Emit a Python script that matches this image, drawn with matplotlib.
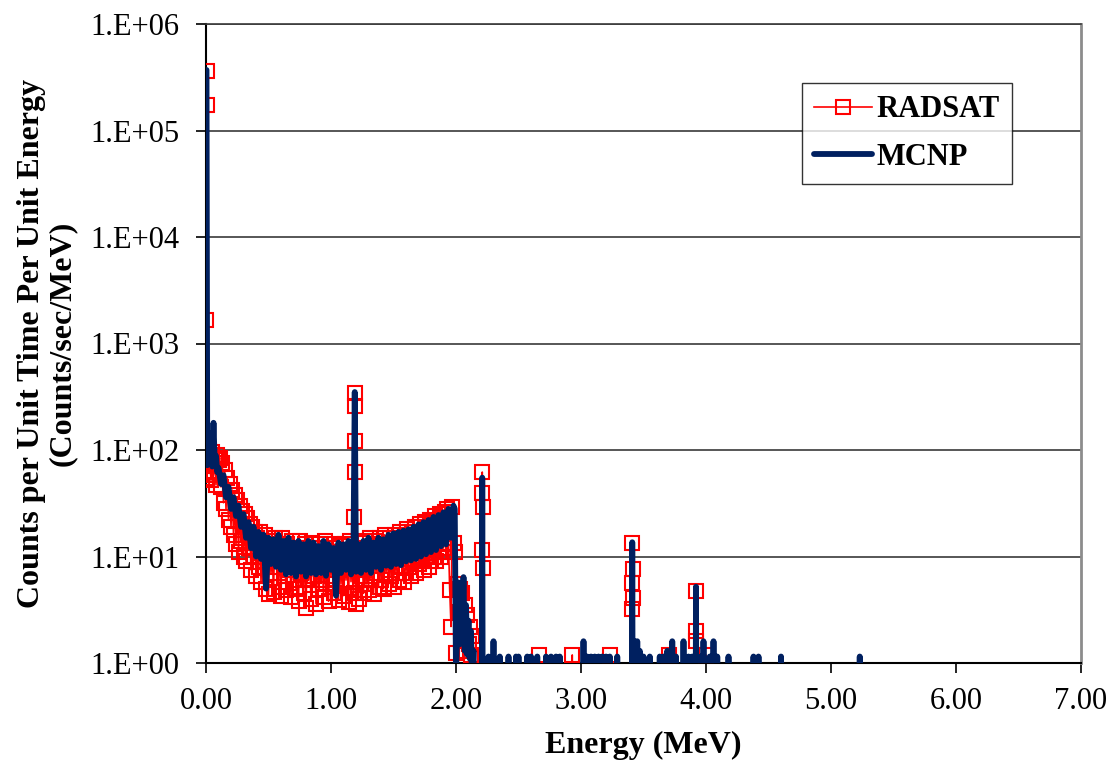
import numpy as np
import matplotlib
matplotlib.use("Agg")
import matplotlib.pyplot as plt
from matplotlib.ticker import FixedLocator, FuncFormatter, NullLocator

ZERO = 1e-2  # zero-count bins (below the log axis)

# ---------------- RADSAT ----------------
radsat_spike_E = [0.000, 0.002, 0.0035, 0.004, 0.0045]
radsat_spike_C = [70, 55, 1.66e3, 3.6e5, 1.72e5]

radsat_cont_E = np.round(np.arange(0.01, 2.005, 0.01), 3)  # 0.01 .. 2.00
radsat_cont_C = [
    85, 62, 78, 52, 95, 58, 85, 47, 90, 80,
    85, 45, 75, 32, 65, 28, 55, 22, 48, 19,
    42, 16, 38, 13, 34, 11, 30, 14, 27, 10,
    25, 9, 23, 12, 20, 7.5, 19, 10, 17, 6.5,
    15, 8, 17, 5.8, 13, 9, 16, 5, 12, 4.4,
    14, 7, 11, 4.6, 15, 8, 12, 5.2, 13, 4.3,
    15, 6.5, 10, 4.8, 13, 7.5, 11, 4.2, 14, 6,
    12, 5, 9, 3.8, 14, 7, 10, 4.5, 13, 3.3,
    12, 6, 9.5, 4, 13.5, 6.5, 11, 3.6, 12, 5,
    13, 6, 10, 4.2, 14, 5.5, 9, 3.8, 12, 6.5,
    11, 4.5, 13, 6, 9.5, 3.9, 12.5, 5.5, 10, 4.3,
    13, 6, 10, 3.7, 14, 5.8, 11, 4.5, 9, 3.6,
    12, 4, 13.5, 6.5, 10, 4.5, 14, 5.5, 11, 4.8,
    15, 6, 12, 4.4, 14, 7, 11, 5.2, 15, 6,
    13, 5, 16, 7, 12, 5.5, 15, 6.5, 13, 5.2,
    16, 7, 13, 6, 17, 8, 14, 5.8, 16, 7,
    18, 8, 15, 6.5, 17, 9, 19, 7, 16, 8.5,
    20, 9, 17, 7.5, 21, 10, 18, 8, 22, 9,
    21, 10, 24, 9, 20, 11, 25, 10, 23, 12,
    26, 11, 28, 13, 4.8, 2.2, 29, 13.4, 11, 1.24,
]

radsat_peak_E = [1.186, 1.188, 1.190, 1.192, 1.194]
radsat_peak_C = [23.5, 121, 340, 258, 62]

radsat_edge_E = [2.01, 2.02, 2.03, 2.04, 2.05, 2.06, 2.07, 2.08, 2.09, 2.10, 2.11, 2.12, 2.13, 2.14]
radsat_edge_C = [5.5, 3.0, 5.0, 2.0, 4.5, 1.6, 3.5, 1.3, 2.8, 1.5, 2.2, 1.2, 1.8, ZERO]

radsat_tail_E = [2.200, 2.206, 2.208, 2.210, 2.212, 2.214, 2.220,
                 2.65, 2.66, 2.67, 2.92, 2.93, 2.94, 3.22, 3.23, 3.24,
                 3.400, 3.406, 3.408, 3.410, 3.412, 3.414, 3.420,
                 3.69, 3.70, 3.71, 3.910, 3.918, 3.920, 3.922, 3.930,
                 3.99, 4.00, 4.01, 7.0]
radsat_tail_C = [ZERO, 11.5, 39.5, 62, 29, 7.8, ZERO,
                 ZERO, 1.19, ZERO, ZERO, 1.19, ZERO, ZERO, 1.19, ZERO,
                 ZERO, 3.2, 5.6, 13.4, 7.6, 4.1, ZERO,
                 ZERO, 1.19, ZERO, ZERO, 1.6, 4.75, 2.0, ZERO,
                 ZERO, 1.19, ZERO, ZERO]

# ---------------- MCNP ----------------
mcnp_lo_E = [0.004, 0.010, 0.020, 0.030, 0.040, 0.050, 0.060, 0.070, 0.080, 0.090]
mcnp_lo_C = [3.7e5, 72, 145, 85, 95, 70, 180, 75, 88, 62]

mcnp_cont_E = np.round(np.arange(0.10, 1.99, 0.02), 3)  # 0.10 .. 1.98
mcnp_cont_C = [
    68, 48, 58, 36, 45, 28, 36, 24, 30, 19,
    25, 15, 21, 12, 19, 10, 17, 9.5, 16, 5.0,
    15, 8.5, 14.5, 8, 16, 7.5, 14, 6.8, 15, 7,
    13.5, 6.5, 14, 7.2, 13, 6.5, 14, 7, 13.5, 6.8,
    12.5, 7, 14, 6.6, 13, 7.5, 12, 4.3, 13.5, 7,
    13, 7.5, 14, 6.8, 12.5, 7.2, 13, 7, 14, 7.5,
    15, 7, 13.5, 8, 15, 7.5, 14.5, 8.2, 16, 8,
    16.5, 8.5, 17, 8.3, 17.5, 9, 18, 9.2, 19, 9.5,
    20, 10, 21, 10.5, 22, 11, 23.5, 11.5, 24.5, 12.5,
    26, 13, 28, 15, 30,
]

mcnp_peak_E = [1.19]
mcnp_peak_C = [350]

mcnp_edge_E = [1.99, 2.00, 2.02, 2.03, 2.04, 2.05, 2.06, 2.07, 2.08, 2.09, 2.10, 2.11, 2.12, 2.13, 2.14, 2.15]
mcnp_edge_C = [28, 0.8, 5.7, 1.5, 4.5, 2.0, 6.4, 1.3, 3.5, 1.2, 2.5, 1.1, 2.0, 0.5, 1.3, ZERO]

mcnp_tail_E = [2.21, 2.26, 2.30, 2.35, 2.42, 2.48, 2.50, 2.57, 2.60, 2.65, 2.72, 2.76, 2.80, 2.83,
               3.02, 3.05, 3.08, 3.11, 3.14, 3.17, 3.20, 3.23, 3.29, 3.41, 3.43, 3.45, 3.47, 3.50,
               3.55, 3.63, 3.66, 3.69, 3.73, 3.76, 3.82, 3.86, 3.89, 3.92, 3.96, 3.98, 4.03, 4.06,
               4.09, 4.18, 4.38, 4.42, 4.60, 5.23]
mcnp_tail_C = [55, 1.15, 1.6, 1.15, 1.15, 1.15, 1.15, 1.15, 1.15, 1.15, 1.15, 1.15, 1.15, 1.15,
               1.6, 1.15, 1.15, 1.15, 1.15, 1.15, 1.15, 1.15, 1.15, 13.6, 1.6, 1.6, 1.3, 1.15,
               1.15, 1.15, 1.15, 1.3, 1.6, 1.15, 1.6, 1.15, 1.15, 5.2, 1.15, 1.6, 1.15, 1.6,
               1.15, 1.15, 1.15, 1.15, 1.15, 1.15]

# ---------------- assemble ----------------
def assemble(pairs):
    e = np.concatenate([np.asarray(p[0], float) for p in pairs])
    c = np.concatenate([np.asarray(p[1], float) for p in pairs])
    o = np.argsort(e, kind="stable")
    return e[o], c[o]

rad_E, rad_C = assemble([(radsat_spike_E, radsat_spike_C), (radsat_cont_E, radsat_cont_C),
                         (radsat_peak_E, radsat_peak_C), (radsat_edge_E, radsat_edge_C),
                         (radsat_tail_E, radsat_tail_C)])

tail_x, tail_y = [], []
for e, h in zip(mcnp_tail_E, mcnp_tail_C):
    tail_x += [e - 0.006, e, e + 0.006]
    tail_y += [ZERO, h, ZERO]
mc_E, mc_C = assemble([(mcnp_lo_E, mcnp_lo_C), (mcnp_cont_E, mcnp_cont_C),
                       (mcnp_peak_E, mcnp_peak_C), (mcnp_edge_E, mcnp_edge_C),
                       (tail_x, tail_y)])

# ---------------- plot ----------------
plt.rcParams["font.family"] = ["Liberation Serif", "DejaVu Serif"]
fig = plt.figure(figsize=(11.14, 7.61), dpi=100)
ax = fig.add_axes([206 / 1114, 1 - 663 / 761, (1081 - 206) / 1114, (663 - 24) / 761])

navy = "#002060"
ax.plot(rad_E, rad_C, color="#FF0000", lw=1.2, marker="s", ms=9.5, mfc="none",
        mec="#FF0000", mew=1.5, label="RADSAT", zorder=3)
ax.plot(mc_E, mc_C, color=navy, lw=4.2, solid_capstyle="round",
        solid_joinstyle="round", label="MCNP", zorder=4)

ax.set_yscale("log")
ax.set_ylim(1, 1e6)
ax.set_xlim(0, 7)

ax.yaxis.set_major_locator(FixedLocator([10.0 ** k for k in range(0, 7)]))
ax.yaxis.set_minor_locator(NullLocator())
ax.yaxis.set_major_formatter(FuncFormatter(lambda v, p: "1.E+%02d" % int(round(np.log10(v)))))
ax.xaxis.set_major_locator(FixedLocator(np.arange(0, 7.01, 1.0)))
ax.xaxis.set_major_formatter(FuncFormatter(lambda v, p: "%.2f" % v))

ax.grid(axis="y", color="#3a3a3a", lw=1.2, zorder=1)
ax.set_axisbelow(True)
ax.tick_params(axis="both", direction="out", length=7, width=1.2, labelsize=22, color="black")
ax.tick_params(axis="y", pad=12)
ax.tick_params(axis="x", pad=10)

for s in ["left", "bottom"]:
    ax.spines[s].set_color("black")
    ax.spines[s].set_linewidth(1.5)
ax.spines["top"].set_color("#3a3a3a")
ax.spines["top"].set_linewidth(1.2)
ax.spines["right"].set_color("#8c8c8c")
ax.spines["right"].set_linewidth(2.0)

ax.set_xlabel("Energy (MeV)", fontsize=23, fontweight="bold", labelpad=11)
ax.set_ylabel("Counts per Unit Time Per Unit Energy\n(Counts/sec/MeV)", fontsize=23,
              fontweight="bold", labelpad=10, linespacing=1.05)

leg = ax.legend(loc="upper left", bbox_to_anchor=(802 / 1114, 1 - 83 / 761),
                bbox_transform=fig.transFigure, borderaxespad=0, frameon=True,
                fancybox=False, prop={"size": 22, "weight": "bold"}, handlelength=1.9,
                handletextpad=0.15, borderpad=0.4, labelspacing=0.62, numpoints=1)
leg.get_frame().set_edgecolor("black")
leg.get_frame().set_linewidth(1.0)

fig.savefig("out.png", dpi=100, facecolor="white")
